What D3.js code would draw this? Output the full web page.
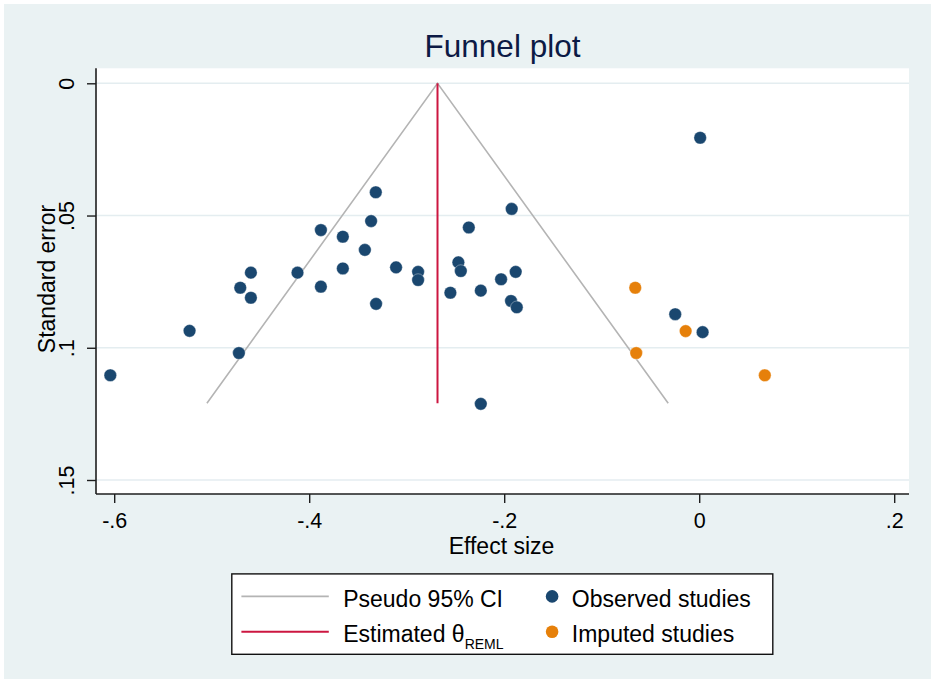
<!DOCTYPE html>
<html>
<head>
<meta charset="utf-8">
<script src="https://cdn.jsdelivr.net/npm/d3@7"></script>
<style>
    body { margin: 0; background: #fff; }
    svg { display: block; font-family: "Liberation Sans", Arial, sans-serif; }
</style>
</head>
<body>
<div id="chart"></div>
<script>
// observed studies: effect size and standard error
const observedEffect = [0.001, -0.3317, -0.3365, -0.3880, -0.3655, -0.3429, -0.4598, -0.4120,
    -0.3655, -0.3109, -0.2883, -0.2883, -0.4707, -0.3880, -0.4598, -0.3314, -0.2552, -0.5227,
    -0.4721, -0.1923, -0.2363, -0.2470, -0.2445, -0.1882, -0.2032, -0.2240, -0.1930, -0.1871,
    -0.2240, -0.0246, 0.0035, -0.6040];
const observedSE = [0.0206, 0.0412, 0.0521, 0.0555, 0.0580, 0.0630, 0.0716, 0.0716,
    0.0700, 0.0696, 0.0713, 0.0744, 0.0773, 0.0769, 0.0811, 0.0834, 0.0792, 0.0936,
    0.1020, 0.0475, 0.0545, 0.0677, 0.0710, 0.0713, 0.0741, 0.0784, 0.0823, 0.0847,
    0.1212, 0.0873, 0.0941, 0.1104];

// imputed (trim-and-fill) studies
const imputedEffect = [-0.0656, -0.0646, -0.0139, 0.0673];
const imputedSE = [0.0773, 0.1020, 0.0937, 0.1104];

// REML estimate and pseudo 95% CI funnel ends
const thetaREML = -0.2684;
const funnelSE = [0.121, 0, 0.121];
const funnelEffect = [-0.5049, thetaREML, -0.0318];

const xTicks = [-0.6, -0.4, -0.2, 0, 0.2];
const xTickLabels = ["-.6", "-.4", "-.2", "0", ".2"];
const yTicks = [0, 0.05, 0.1, 0.15];
const yTickLabels = ["0", ".05", ".1", ".15"];

const width = 935, height = 683;
const plot = { left: 96, right: 909, top: 68.3, bottom: 494 };

const navy = "#1a476f";
const orange = "#e6800a";
const cranberry = "#cc1640";
const ciGray = "#b4b4b4";
const bg = "#eaf2f3";

const svg = d3.select("#chart").append("svg")
    .attr("width", width)
    .attr("height", height);

svg.append("rect")
    .attr("x", 4).attr("y", 4)
    .attr("width", 927).attr("height", 675)
    .attr("fill", bg);

svg.append("rect")
    .attr("x", plot.left).attr("y", plot.top)
    .attr("width", plot.right - plot.left).attr("height", plot.bottom - plot.top)
    .attr("fill", "#fff");

const x = d3.scaleLinear().domain([-0.6, 0.2]).range([114.2, 894.2]);
const y = d3.scaleLinear().domain([0, 0.15]).range([83.3, 480]);

// gridlines
svg.append("g").selectAll("line")
    .data(yTicks)
    .enter()
    .append("line")
    .attr("x1", plot.left).attr("x2", plot.right)
    .attr("y1", d => y(d)).attr("y2", d => y(d))
    .attr("stroke", "#e4edf0")
    .attr("stroke-width", 1.6);

// pseudo CI funnel
const funnelLine = d3.line()
    .x(d => x(d[0]))
    .y(d => y(d[1]));

svg.append("path")
    .attr("d", funnelLine(funnelEffect.map((e, i) => [e, funnelSE[i]])))
    .attr("fill", "none")
    .attr("stroke", ciGray)
    .attr("stroke-width", 1.6);

svg.append("line")
    .attr("x1", x(thetaREML)).attr("x2", x(thetaREML))
    .attr("y1", y(0)).attr("y2", y(funnelSE[0]))
    .attr("stroke", cranberry)
    .attr("stroke-width", 2);

// markers
svg.append("g").selectAll("circle")
    .data(observedEffect.map((e, i) => [e, observedSE[i]]))
    .enter()
    .append("circle")
    .attr("cx", d => x(d[0]))
    .attr("cy", d => y(d[1]))
    .attr("r", 6.3)
    .attr("fill", navy)
    .attr("stroke", "#fff")
    .attr("stroke-opacity", 0.6)
    .attr("stroke-width", 0.6);

svg.append("g").selectAll("circle")
    .data(imputedEffect.map((e, i) => [e, imputedSE[i]]))
    .enter()
    .append("circle")
    .attr("cx", d => x(d[0]))
    .attr("cy", d => y(d[1]))
    .attr("r", 6.3)
    .attr("fill", orange)
    .attr("stroke", "#fff")
    .attr("stroke-opacity", 0.6)
    .attr("stroke-width", 0.6);

// axes
const axisColor = "#1e1e1e";

const xAxis = svg.append("g")
    .attr("transform", `translate(0,${plot.bottom})`)
    .call(d3.axisBottom(x).tickValues(xTicks).tickFormat((d, i) => xTickLabels[i]).tickSize(9).tickSizeOuter(0));
xAxis.select(".domain").remove();
xAxis.selectAll("line").attr("stroke", axisColor).attr("stroke-width", 1.4);
xAxis.selectAll("text")
    .attr("y", 33.5).attr("dy", 0)
    .attr("fill", "#000")
    .style("font-size", "21.5px")
    .style("font-family", "Liberation Sans, Arial, sans-serif");

const yAxis = svg.append("g")
    .attr("transform", `translate(${plot.left},0)`)
    .call(d3.axisLeft(y).tickValues(yTicks).tickFormat((d, i) => yTickLabels[i]).tickSize(9).tickSizeOuter(0));
yAxis.select(".domain").remove();
yAxis.selectAll("line").attr("stroke", axisColor).attr("stroke-width", 1.4);
yAxis.selectAll("text")
    .attr("transform", "rotate(-90)")
    .attr("x", 0).attr("y", -22.5).attr("dy", 0)
    .attr("text-anchor", "middle")
    .attr("fill", "#000")
    .style("font-size", "21.5px")
    .style("font-family", "Liberation Sans, Arial, sans-serif");

svg.append("line")
    .attr("x1", plot.left).attr("x2", plot.right)
    .attr("y1", plot.bottom).attr("y2", plot.bottom)
    .attr("stroke", axisColor).attr("stroke-width", 1.6);
svg.append("line")
    .attr("x1", plot.left).attr("x2", plot.left)
    .attr("y1", plot.top).attr("y2", plot.bottom)
    .attr("stroke", axisColor).attr("stroke-width", 1.6);

// titles
svg.append("text")
    .attr("x", 502.5).attr("y", 56.7)
    .attr("text-anchor", "middle")
    .attr("fill", "#0c1a45")
    .style("font-size", "31.5px")
    .text("Funnel plot");

svg.append("text")
    .attr("x", 501.5).attr("y", 553.5)
    .attr("text-anchor", "middle")
    .attr("fill", "#000")
    .style("font-size", "23px")
    .text("Effect size");

svg.append("text")
    .attr("transform", "translate(55,279) rotate(-90)")
    .attr("text-anchor", "middle")
    .attr("fill", "#000")
    .style("font-size", "23px")
    .text("Standard error");

// legend
const legend = svg.append("g").attr("transform", "translate(231.8,573.9)");
legend.append("rect")
    .attr("width", 541).attr("height", 80.4)
    .attr("fill", "#fff")
    .attr("stroke", "#111")
    .attr("stroke-width", 1.4);

const rowY = [22.5, 57.9];
legend.append("line")
    .attr("x1", 9.6).attr("x2", 97).attr("y1", rowY[0]).attr("y2", rowY[0])
    .attr("stroke", ciGray).attr("stroke-width", 1.8);
legend.append("line")
    .attr("x1", 9.6).attr("x2", 97).attr("y1", rowY[1]).attr("y2", rowY[1])
    .attr("stroke", cranberry).attr("stroke-width", 2);

legend.append("text")
    .attr("x", 111.4).attr("y", rowY[0] + 10.6)
    .style("font-size", "23px")
    .text("Pseudo 95% CI");

const est = legend.append("text")
    .attr("x", 111.4).attr("y", rowY[1] + 10)
    .style("font-size", "23px");
est.append("tspan").text("Estimated θ");
est.append("tspan").attr("dy", 7.2).style("font-size", "14px").text("REML");

legend.append("circle")
    .attr("cx", 320.3).attr("cy", rowY[0]).attr("r", 6.3).attr("fill", navy);
legend.append("circle")
    .attr("cx", 320.3).attr("cy", rowY[1]).attr("r", 6.3).attr("fill", orange);

legend.append("text")
    .attr("x", 340).attr("y", rowY[0] + 10.6)
    .style("font-size", "23px")
    .text("Observed studies");
legend.append("text")
    .attr("x", 340).attr("y", rowY[1] + 10)
    .style("font-size", "23px")
    .text("Imputed studies");
</script>
</body>
</html>
